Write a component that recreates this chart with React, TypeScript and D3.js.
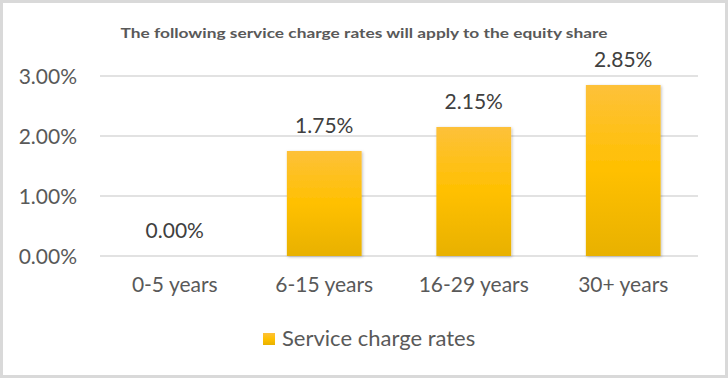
import React from "react";
import * as d3 from "d3";

const categories = ["0-5 years", "6-15 years", "16-29 years", "30+ years"];
const values = [0.0, 1.75, 2.15, 2.85];
const yTicks = [0, 1, 2, 3];
const title = "The following service charge rates will apply to the equity share";
const seriesName = "Service charge rates";

const W = 728;
const H = 378;

export default function App() {
  const x = d3.scaleBand<string>().domain(categories).range([100, 698]).paddingInner(0.5).paddingOuter(0.25);
  const y = d3.scaleLinear().domain([0, 3]).range([256, 76]);
  const font = "Lato, 'Open Sans', 'Liberation Sans', sans-serif";
  return (
    <svg width={W} height={H} style={{ position: "absolute", left: 0, top: 0, background: "#fff" }} fontFamily={font}>
      <defs>
        <linearGradient id="barGrad" x1="0" y1="0" x2="0" y2="1">
          <stop offset="0" stopColor="#fdc13a" />
          <stop offset="0.5" stopColor="#ffc000" />
          <stop offset="1" stopColor="#e8b100" />
        </linearGradient>
        <filter id="shadow" x="-20%" y="-20%" width="140%" height="140%">
          <feDropShadow dx="1" dy="1" stdDeviation="1.5" floodColor="#000" floodOpacity="0.25" />
        </filter>
      </defs>
      <rect x={1.5} y={1.5} width={W - 3} height={H - 3} fill="#fff" stroke="#d9d9d9" strokeWidth={3} />
      <text x={364} y={38} textAnchor="middle" fontSize={14} fontWeight="bold" fill="#595959" textLength={487} lengthAdjust="spacingAndGlyphs">
        {title}
      </text>
      {yTicks.map((t) => (
        <g key={t}>
          <line x1={100} x2={698} y1={y(t)} y2={y(t)} stroke="#d9d9d9" strokeWidth={1.5} />
          <text x={77} y={y(t) + 7.5} textAnchor="end" fontSize={21} fill="#595959">
            {d3.format(".2f")(t) + "%"}
          </text>
        </g>
      ))}
      {categories.map((c, i) => {
        const bx = x(c)!;
        const bw = x.bandwidth();
        const top = y(values[i]);
        return (
          <g key={c}>
            {values[i] > 0 && (
              <rect x={bx} y={top} width={bw} height={y(0) - top} fill="url(#barGrad)" filter="url(#shadow)" />
            )}
            <text x={bx + bw / 2} y={top - 18} textAnchor="middle" fontSize={21} fill="#404040">
              {d3.format(".2f")(values[i]) + "%"}
            </text>
            <text x={bx + bw / 2} y={292} textAnchor="middle" fontSize={21} fill="#595959">
              {c}
            </text>
          </g>
        );
      })}
      <rect x={263} y={333} width={12} height={12} fill="url(#barGrad)" />
      <text x={282} y={346} fontSize={22} fill="#595959">
        {seriesName}
      </text>
    </svg>
  );
}
